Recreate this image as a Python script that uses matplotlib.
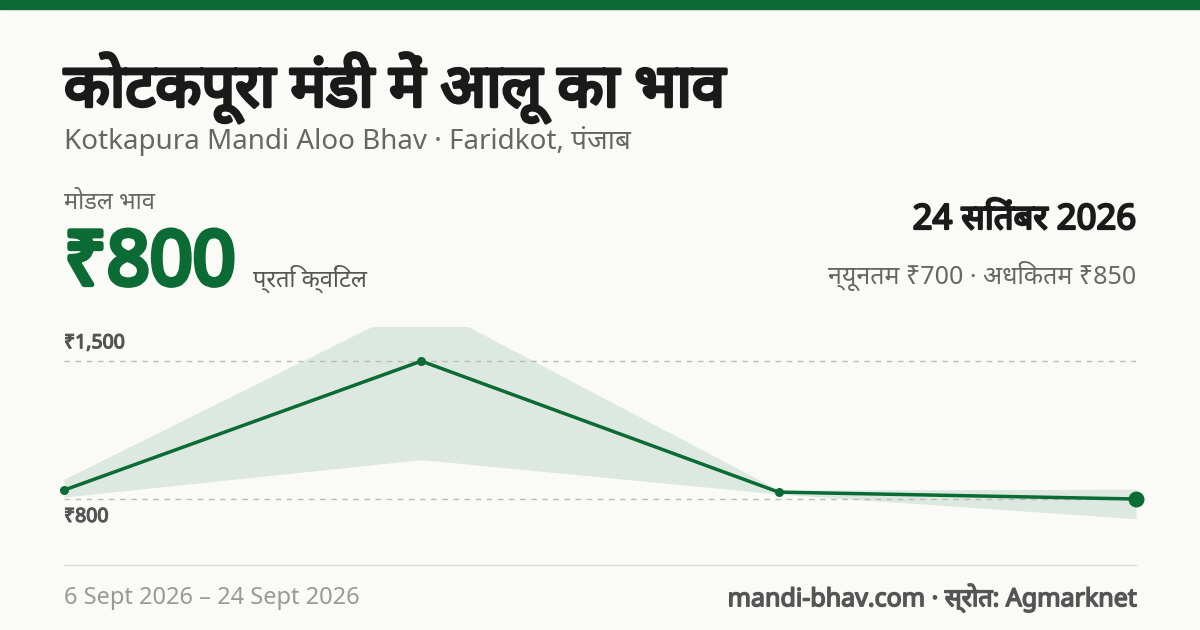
import matplotlib
matplotlib.use("Agg")
import matplotlib.pyplot as plt
import matplotlib.patheffects as pe
from matplotlib.lines import Line2D
from matplotlib.patches import Rectangle

plt.rcParams['font.family'] = ['Noto Sans', 'Noto Sans Devanagari', 'DejaVu Sans']

dates = ["6 Sept", "12 Sept", "18 Sept", "24 Sept"]
modal = [845, 1500, 835, 800]
min_price = [810, 1000, 825, 700]
max_price = [900, 1800, 845, 850]

GREEN = "#0b6b35"
BG = "#fafaf7"

def bold(c, w):
    return [pe.withStroke(linewidth=w, foreground=c)]

fig = plt.figure(figsize=(12, 6.3), dpi=100, facecolor=BG)
fig.patches.append(Rectangle((0, 1 - 9/630), 1, 9/630, transform=fig.transFigure, color=GREEN))

ax = fig.add_axes([64/1200, 1 - 540/630, 1072/1200, 213/630])
ax.set_facecolor(BG)
x = list(range(len(modal)))
ax.fill_between(x, min_price, max_price, color="#dce8e0", lw=0)
for v in (800, 1500):
    ax.axhline(v, color="#bbbbbb", lw=1, ls=(0, (4, 4)))
ax.plot(x, modal, color=GREEN, lw=2.5, clip_on=False)
ax.scatter(x[:-1], modal[:-1], s=30, color=GREEN, zorder=3, clip_on=False)
ax.scatter(x[-1:], modal[-1:], s=110, color=GREEN, zorder=3, clip_on=False)
ax.set_xlim(0, 3)
ax.set_ylim(592, 1673)
ax.axis("off")
ax.text(0, 1500 + 40, "₹1,500", fontsize=14, color="#555555", va="bottom", path_effects=bold("#555555", 0.9))
ax.text(0, 800 - 40, "₹800", fontsize=14, color="#555555", va="top", path_effects=bold("#555555", 0.9))

fig.add_artist(Line2D([64/1200, 1136/1200], [1 - 565/630]*2, color="#dddddd", lw=1))

def t(px, py, s, **kw):
    fig.text(px/1200, 1 - py/630, s, **kw)

t(64, 88, "कोटकपूरा मंडी में आलू का भाव", fontsize=43, color="#1a1a1a", va="center", path_effects=bold("#1a1a1a", 2.6))
t(64, 141, "Kotkapura Mandi Aloo Bhav · Faridkot, पंजाब", fontsize=20, color="#666666", va="center")
t(64, 203, "मोडल भाव", fontsize=17, color="#666666", va="center")
t(64, 265, "₹800", fontsize=54, color=GREEN, va="center", path_effects=bold(GREEN, 3.8))
t(253, 279, "प्रति क्विंटल", fontsize=17, color="#555555", va="center")
t(1136, 220, "24 सितंबर 2026", fontsize=25, color="#1a1a1a", va="center", ha="right", path_effects=bold("#1a1a1a", 1.6))
t(1136, 276, "न्यूनतम ₹700 · अधिकतम ₹850", fontsize=18, color="#666666", va="center", ha="right")
t(64, 598, "6 Sept 2026 – 24 Sept 2026", fontsize=17, color="#999999", va="center")
t(1136, 598, "mandi-bhav.com · स्रोत: Agmarknet", fontsize=18, color="#555555", va="center", ha="right", path_effects=bold("#555555", 1.1))

fig.savefig("out.png", dpi=100, facecolor=BG)
